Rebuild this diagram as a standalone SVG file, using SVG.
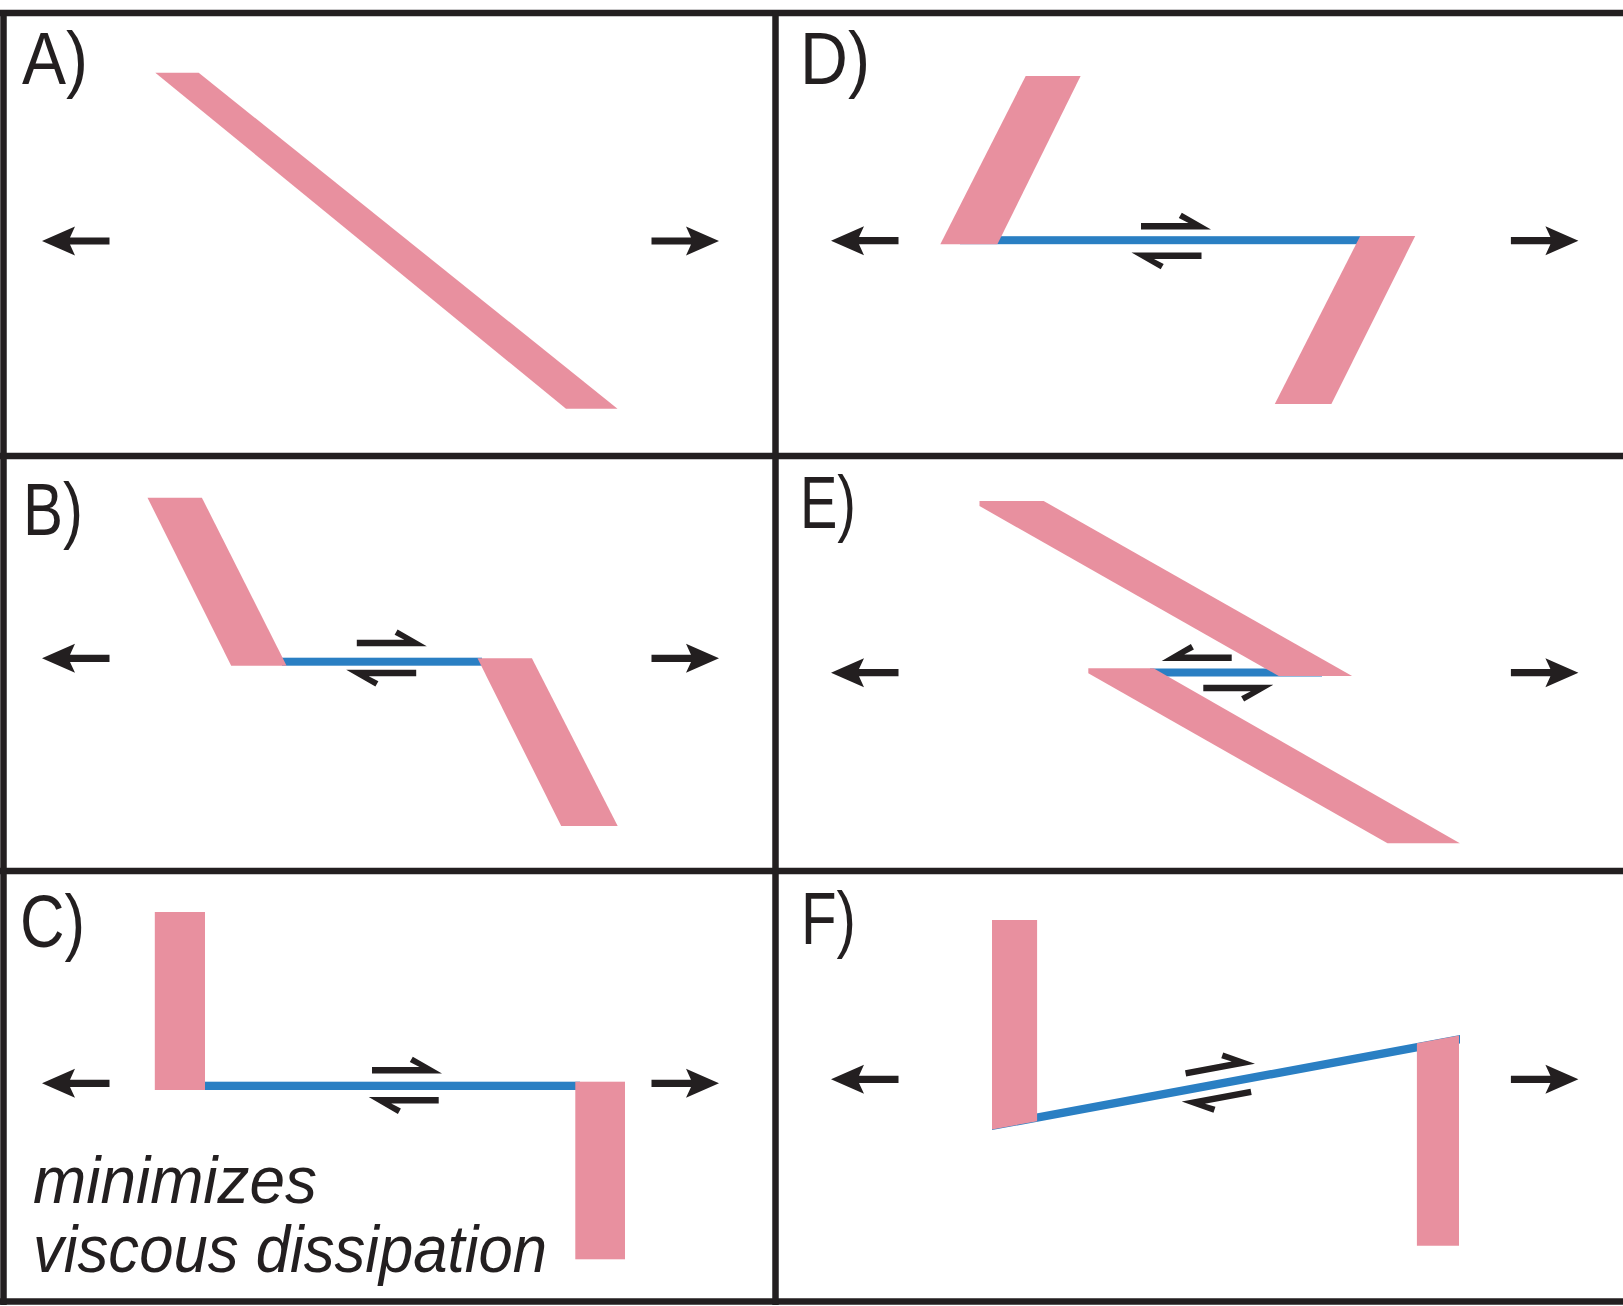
<svg xmlns="http://www.w3.org/2000/svg" xmlns:xlink="http://www.w3.org/1999/xlink" width="1623" height="1306" viewBox="0 0 1623 1306">
  <style>
    .frame { stroke: #231f20; stroke-width: 6.5; fill: none; }
    .pink { fill: #e8909f; }
    .blue { fill: #2a7fc3; }
    .ink { fill: #231f20; }
    .lbl { font-family: "Liberation Sans", Arial, sans-serif; font-size: 74px; fill: #231f20; }
    .note { font-family: "Liberation Sans", Arial, sans-serif; font-style: italic; font-size: 67px; fill: #231f20; }
  </style>
  <defs>
    <path id="arrL" d="M0,0 L33,-14.5 L28,-3.6 L67.5,-3.6 L67.5,3.6 L28,3.6 L33,14.5 Z"/>
    <path id="half" d="M0,0 L-70,0 L-70,-6.4 L-22.5,-6.4 L-32.2,-11.4 L-29.2,-16.8 Z"/>
  </defs>
  <rect width="1623" height="1306" fill="#ffffff"/>

  <g id="frame" class="frame">
    <line x1="0" y1="13" x2="1623" y2="13"/>
    <line x1="0" y1="456" x2="1623" y2="456"/>
    <line x1="0" y1="871" x2="1623" y2="871"/>
    <line x1="0" y1="1301.5" x2="1623" y2="1301.5"/>
    <line x1="3.5" y1="10" x2="3.5" y2="1305"/>
    <line x1="775.5" y1="10" x2="775.5" y2="1305"/>
  </g>

  <g id="panel-A">
    <text class="lbl" x="22" y="83.5" textLength="66" lengthAdjust="spacingAndGlyphs">A)</text>
    <polygon class="pink" points="155.3,72.7 198.7,72.7 617.5,408.7 566,408.7"/>
  </g>

  <g id="panel-B">
    <text class="lbl" x="23" y="534.5" textLength="60" lengthAdjust="spacingAndGlyphs">B)</text>
    <rect class="blue" x="282" y="657.7" width="200" height="8"/>
    <polygon class="pink" points="147.5,497.7 201.9,497.7 286.6,665.7 231.2,665.7"/>
    <polygon class="pink" points="477.5,658.3 531.9,658.3 617.7,826 561.2,826"/>
  </g>

  <g id="panel-C">
    <text class="lbl" x="20" y="947" textLength="65" lengthAdjust="spacingAndGlyphs">C)</text>
    <rect class="blue" x="200" y="1081.7" width="380" height="8.3"/>
    <rect class="pink" x="154.8" y="912" width="50.2" height="178"/>
    <rect class="pink" x="575.3" y="1081.7" width="49.7" height="177.6"/>
    <text class="note" x="33" y="1202.7" textLength="284" lengthAdjust="spacingAndGlyphs">minimizes</text>
    <text class="note" x="33" y="1272" textLength="514" lengthAdjust="spacingAndGlyphs">viscous dissipation</text>
  </g>

  <g id="panel-D">
    <text class="lbl" x="800" y="84" textLength="70" lengthAdjust="spacingAndGlyphs">D)</text>
    <rect class="blue" x="960" y="236.2" width="420" height="8"/>
    <polygon class="pink" points="1025.7,76 1080.6,76 997.4,244.3 940.3,244.3"/>
    <polygon class="pink" points="1360.2,236 1415.2,236 1331.4,404 1274.8,404"/>
  </g>

  <g id="panel-E">
    <text class="lbl" x="800" y="527.5" textLength="56" lengthAdjust="spacingAndGlyphs">E)</text>
    <rect class="blue" x="1150" y="668.5" width="172" height="8"/>
    <polygon class="pink" points="979.5,501 1043.7,501 1352.1,676 1278.7,676 979.5,506"/>
    <polygon class="pink" points="1088.3,668.3 1153.5,668.3 1459.9,843.3 1387.5,843.3 1088.3,673.3"/>
  </g>

  <g id="panel-F">
    <text class="lbl" x="801" y="943.5" textLength="55" lengthAdjust="spacingAndGlyphs">F)</text>
    <polygon class="blue" points="992,1121.6 1460,1035.1 1460,1043.6 992,1130.1"/>
    <polygon class="pink" points="992,920 1037.1,920 1037.1,1121.2 992,1129.5"/>
    <polygon class="pink" points="1416.9,1043.3 1459,1035.5 1459,1245.7 1416.9,1245.7"/>
  </g>

  <g id="connectors" class="ink">
    <use xlink:href="#arrL" transform="translate(42,241)"/>
    <use xlink:href="#arrL" transform="translate(719,241) scale(-1,1)"/>
    <use xlink:href="#arrL" transform="translate(42,658.3)"/>
    <use xlink:href="#arrL" transform="translate(719,658.3) scale(-1,1)"/>
    <use xlink:href="#arrL" transform="translate(42,1083.3)"/>
    <use xlink:href="#arrL" transform="translate(719,1083.3) scale(-1,1)"/>
    <use xlink:href="#arrL" transform="translate(831,240.7)"/>
    <use xlink:href="#arrL" transform="translate(1578.4,240.7) scale(-1,1)"/>
    <use xlink:href="#arrL" transform="translate(831,672.7)"/>
    <use xlink:href="#arrL" transform="translate(1578.4,672.7) scale(-1,1)"/>
    <use xlink:href="#arrL" transform="translate(831,1079.3)"/>
    <use xlink:href="#arrL" transform="translate(1578.4,1079.3) scale(-1,1)"/>

    <use xlink:href="#half" transform="translate(426.8,646.2)"/>
    <use xlink:href="#half" transform="translate(346.2,669.8) rotate(180)"/>
    <use xlink:href="#half" transform="translate(442,1073.5)"/>
    <use xlink:href="#half" transform="translate(368.7,1097.1) rotate(180)"/>
    <use xlink:href="#half" transform="translate(1211,229.5)"/>
    <use xlink:href="#half" transform="translate(1131.5,252.5) rotate(180)"/>
    <use xlink:href="#half" transform="translate(1161.7,660.9) scale(-1,1)"/>
    <use xlink:href="#half" transform="translate(1273.3,684.8) scale(1,-1)"/>
    <use xlink:href="#half" transform="translate(1255,1063.7) rotate(-10.5)"/>
    <use xlink:href="#half" transform="translate(1181.7,1101.5) rotate(169.5)"/>
  </g>
</svg>
